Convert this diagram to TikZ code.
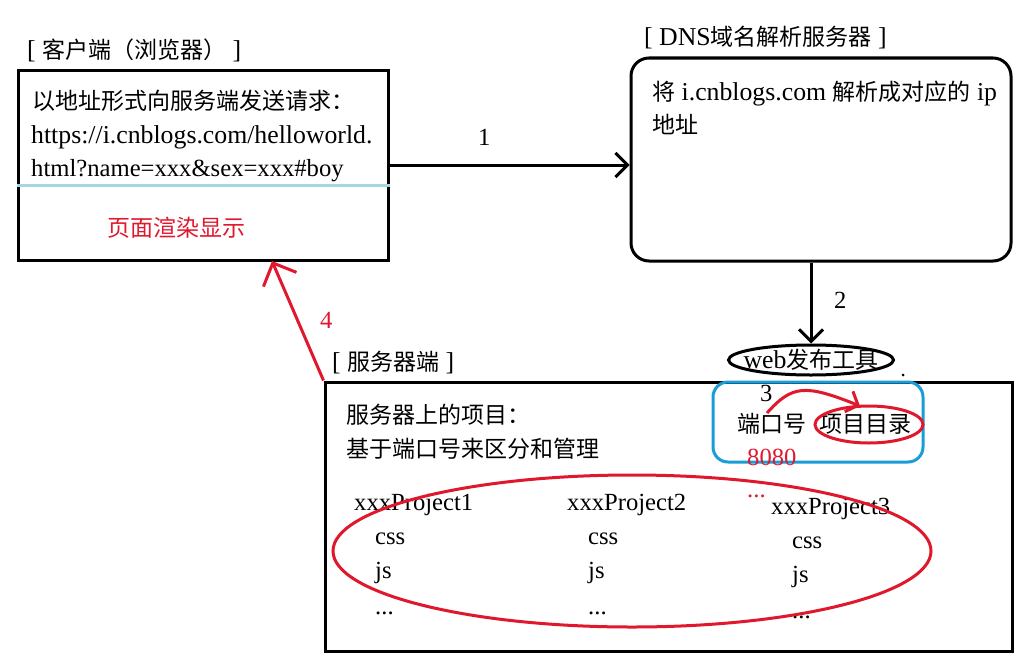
\documentclass[tikz,border=0pt]{standalone}
\usepackage{fontspec}
\setmainfont[Scale=1.12]{Liberation Serif}
\newfontfamily\cjk{Noto Sans CJK SC}
\usetikzlibrary{arrows.meta,positioning,shapes.geometric}
\definecolor{markred}{HTML}{E0182D}
\definecolor{markblue}{HTML}{1A9CD7}
\definecolor{lineblue}{HTML}{A5D5E6}
\tikzset{
  txt/.style={anchor=west,inner sep=0pt,text height=19pt,text depth=2pt,font=\fontsize{23}{25}\selectfont},
  small/.style={txt,font=\fontsize{22}{24}\selectfont},
  block/.style={draw,rectangle,line width=3pt,inner sep=0pt},
  barb/.style={-{Straight Barb[length=12pt,width=24pt,line width=3pt]},line width=3pt},
  redbarb/.style={-{Straight Barb[length=18pt,width=36pt,line width=3pt]},line width=3pt,draw=markred}
}
\begin{document}
\begin{tikzpicture}[x=1pt,y=-1pt]
  \useasboundingbox (0,0) rectangle (1032,669);

  % client
  \node [block,minimum width=370pt,minimum height=190pt] (client) at (203,165) {};
  \node [txt] (clienttitle) at (27,50) {[ {\cjk 客户端（浏览器）} ]};
  \node [txt] (ask) at (32,101) {\cjk 以地址形式向服务端发送请求：};
  \node [txt,below right=34pt and -1pt of ask.west,anchor=west] (url1) {https://i.cnblogs.com/helloworld.};
  \node [small,below=33pt of url1.west,anchor=west] (url2) {html?name=xxx\&sex=xxx\#boy};
  \node [txt,text=markred] (render) at (107,228) {\cjk 页面渲染显示};
  \draw [lineblue,line width=3pt] (client.west |- 0,185) -- (client.east |- 0,185);

  % dns
  \node [block,rounded corners=18pt,minimum width=380pt,minimum height=203pt] (dns) at (821,159.5) {};
  \node [txt] (dnstitle) at (644,37) {[ DNS{\cjk 域名解析服务器} ]};
  \node [txt] (parse) at (652,92) {{\cjk 将} i.cnblogs.com {\cjk 解析成对应的} ip};
  \node [txt,below=33pt of parse.west,anchor=west] (addr) {\cjk 地址};

  % server
  \node [block,minimum width=687pt,minimum height=269pt] (server) at (668.5,516.5) {};
  \node [txt] (servertitle) at (332,362) {[ {\cjk 服务器端} ]};
  \node [txt] (proj) at (346,415) {\cjk 服务器上的项目：};
  \node [txt,below=34pt of proj.west,anchor=west] (base) {\cjk 基于端口号来区分和管理};

  \node [draw=black,ellipse,line width=3pt,inner sep=0pt,minimum width=165pt,minimum height=30pt] (web) at (811,360) {};
  \node [txt,anchor=center] (webtxt) at (web.center) {web{\cjk 发布工具}};
  \fill (903,375) circle (1.5pt);

  \node [draw=markblue,rectangle,rounded corners=15pt,line width=3pt,minimum width=210pt,minimum height=80pt] (tool) at (818,422) {};
  \node [txt] (port) at (737,424) {\cjk 端口号};
  \node [txt] (dir) at (819,424) {\cjk 项目目录};
  \node [draw=markred,ellipse,line width=3pt,inner sep=0pt,minimum width=108pt,minimum height=37pt] (dirmark) at (869,424.5) {};
  \node [small,text=markred] (num) at (747,457) {8080};

  % projects
  \node [small] (p1) at (354,502) {xxxProject1};
  \node [small,below right=34pt and 21pt of p1.west,anchor=west] (css1) {css};
  \node [small,below=34pt of css1.west,anchor=west] (js1) {js};
  \node [small,below=36pt of js1.west,anchor=west] (more1) {...};
  \node [small] (p2) at (567,502) {xxxProject2};
  \node [small,below right=34pt and 21pt of p2.west,anchor=west] (css2) {css};
  \node [small,below=34pt of css2.west,anchor=west] (js2) {js};
  \node [small,below=36pt of js2.west,anchor=west] (more2) {...};
  \node [small] (p3) at (771,506) {xxxProject3};
  \node [small,below right=34pt and 21pt of p3.west,anchor=west] (css3) {css};
  \node [small,below=34pt of css3.west,anchor=west] (js3) {js};
  \node [small,below=36pt of js3.west,anchor=west] (more3) {...};
  \node [small,text=markred] (dots) at (747,489) {...};
  \node [draw=markred,ellipse,line width=3pt,inner sep=0pt,minimum width=598pt,minimum height=152pt] (group) at (632,551) {};

  % connectors
  \coordinate (hit) at (272,261);
  \coordinate (portup) at (767,413);
  \coordinate (dirup) at (860,406);
  \draw [barb] (client.east) -- (client.east -| dns.west);
  \draw [barb] (web.north |- dns.south) -- (web.north);
  \draw [redbarb] (server.north west) -- (hit);
  \draw [-{Straight Barb[length=10pt,width=22pt,line width=3pt]},line width=3pt,draw=markred] (portup) .. controls (792,385) and (805,384) .. (dirup);

  \node [small] (n1) at (478,137) {1};
  \node [small] (n2) at (834,300) {2};
  \node [small] (n3) at (760,393) {3};
  \node [small,text=markred] (n4) at (320,320) {4};
\end{tikzpicture}
\end{document}
